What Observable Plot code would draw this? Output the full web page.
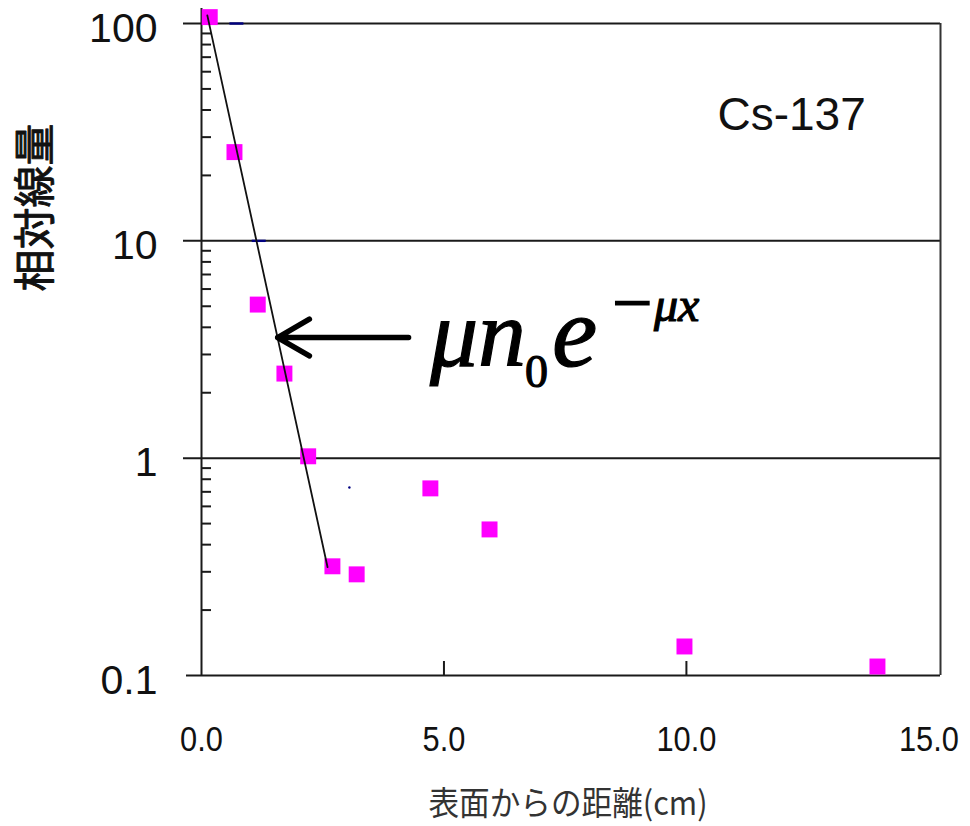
<!DOCTYPE html>
<html><head><meta charset="utf-8">
<script src="https://cdn.jsdelivr.net/npm/d3@7"></script>
<script src="https://cdn.jsdelivr.net/npm/@observablehq/plot@0.6"></script>
<style>body{margin:0;background:#fff} svg{display:block}</style>
</head><body><div id="chart"></div>
<script>
// measured data (distance from surface in cm, relative dose)
const distance = [0.17, 0.68, 1.16, 1.71, 2.20, 2.70, 3.20, 4.72, 5.94, 9.96, 13.94];
const dose = [107, 25.6, 5.09, 2.45, 1.02, 0.318, 0.292, 0.726, 0.470, 0.136, 0.110];
// fitted exponential line (end points)
const fitDistance = [0.12, 2.60];
const fitDose = [109, 0.315];
// small navy markers
const markerDistance = [0.72, 1.18];
const markerDose = [100, 10];
const strayDistance = [3.05];
const strayDose = [0.733];
// axes
const yTicks = [0.1, 1, 10, 100];
const yTickLabels = ["0.1", "1", "10", "100"];
const xTicks = [0, 5, 10, 15];
const xTickLabels = ["0.0", "5.0", "10.0", "15.0"];
const gridValues = [1, 10, 100];
const minorValues = [0.2,0.3,0.4,0.5,0.6,0.7,0.8,0.9, 2,3,4,5,6,7,8,9, 20,30,40,50,60,70,80,90];
const xMax = 15.24;
// texts
const xTitle = "表面からの距離(cm)";
const yTitle = "相対線量";
const nuclideLabel = [{x: 10.64, y: 38, text: "Cs-137"}];
const arrowData = [{x1: 4.27, y1: 3.59, x2: 1.57, y2: 3.59}];
const formulaPos = {x: 4.72, y: 2.64};

const W = 970, H = 826, ML = 201, MR = 30, MT = 23, MB = 151;
const points = distance.map((d, i) => ({x: d, y: dose[i]}));
const fit = fitDistance.map((d, i) => ({x: d, y: fitDose[i]}));
const markers = markerDistance.map((d, i) => ({x: d, y: markerDose[i]}));
const strays = strayDistance.map((d, i) => ({x: d, y: strayDose[i]}));
const dash = {draw(ctx) { ctx.rect(-7, -1.2, 14, 2.4); }};

const plot = Plot.plot({
  width: W, height: H,
  marginLeft: ML, marginRight: MR, marginTop: MT, marginBottom: MB,
  style: {background: "#fff", fontFamily: "'Liberation Sans', Arial, sans-serif", color: "#111"},
  x: {domain: [0, xMax]},
  y: {type: "log", domain: [0.1, 100]},
  marks: [
    Plot.ruleY(gridValues, {stroke: "#1a1a1a", strokeWidth: 2, insetLeft: -18}),
    Plot.ruleY([0.1], {stroke: "#1a1a1a", strokeWidth: 2, insetLeft: -15}),
    Plot.ruleX([0], {stroke: "#1a1a1a", strokeWidth: 2, insetTop: -15}),
    Plot.ruleX([xMax], {stroke: "#333", strokeWidth: 2}),
    Plot.tickY(minorValues, {stroke: "#1a1a1a", strokeWidth: 2, insetRight: W - ML - MR - 10}),
    Plot.tickX([5, 10], {stroke: "#1a1a1a", strokeWidth: 2, insetTop: H - MT - MB - 14}),
    Plot.axisY({ticks: yTicks, tickFormat: d => yTickLabels[yTicks.indexOf(d)], tickSize: 0, tickPadding: 44, fontSize: 41, dy: 5, fill: "#111"}),
    Plot.axisX({ticks: xTicks, tickFormat: d => xTickLabels[xTicks.indexOf(d)], tickSize: 0, tickPadding: 51, fontSize: 35, fill: "#111", stroke: "#111", strokeWidth: 0.4}),
    Plot.text([xTitle], {frameAnchor: "bottom", textAnchor: "middle", lineAnchor: "middle", dx: -3, dy: 129, fontSize: 33, fill: "#333", fontFamily: "'Noto Sans CJK JP', sans-serif"}),
    Plot.text([yTitle], {frameAnchor: "left", rotate: -90, textAnchor: "middle", lineAnchor: "middle", dx: -165, dy: -142, fontSize: 42, fill: "#111", stroke: "#111", strokeWidth: 0.9, fontFamily: "'Noto Sans CJK JP', sans-serif"}),
    Plot.text(nuclideLabel, {x: "x", y: "y", text: "text", textAnchor: "start", fontSize: 46, fill: "#111"}),
    Plot.dot(markers, {x: "x", y: "y", symbol: dash, fill: "#000080", stroke: null}),
    Plot.dot(strays, {x: "x", y: "y", r: 1.2, fill: "#000080"}),
    Plot.dot(points, {x: "x", y: "y", symbol: "square", r: 9, fill: "#ff00ff"}),
    Plot.line(fit, {x: "x", y: "y", stroke: "#111", strokeWidth: 1.8}),
    Plot.arrow(arrowData, {x1: "x1", y1: "y1", x2: "x2", y2: "y2", stroke: "#000", strokeWidth: 5.5, headLength: 10, headAngle: 60})
  ]
});
document.getElementById("chart").appendChild(plot);

// condensed x tick labels and x title, as in the reference
d3.select(plot).selectAll("g[aria-label='x-axis tick label'] text").each(function() {
  const L = this.getComputedTextLength();
  this.setAttribute("textLength", L * 0.88);
  this.setAttribute("lengthAdjust", "spacingAndGlyphs");
});
d3.select(plot).selectAll("text").filter(function() { return this.textContent === xTitle; }).each(function() {
  this.setAttribute("textLength", 279);
  this.setAttribute("lengthAdjust", "spacingAndGlyphs");
});

// formula annotation  μn0e^(−μx)
const sx = plot.scale("x"), sy = plot.scale("y");
const x0 = sx.apply(formulaPos.x), y0 = sy.apply(formulaPos.y);
const t = d3.select(plot).append("text")
  .attr("font-family", "'Liberation Serif', 'Times New Roman', serif")
  .attr("text-anchor", "start")
  .attr("fill", "#000")
  .attr("stroke", "#000")
  .attr("stroke-width", 1.2);
const parts = [
  {s: "μn", dx: 0, dy: 0, size: 96, italic: true},
  {s: "0", dx: 95, dy: 21, size: 46, italic: false},
  {s: "e", dx: 122, dy: 0, size: 102, italic: true},
  {s: "−", dx: 182, dy: -39, size: 72, italic: false},
  {s: "μx", dx: 224, dy: -45, size: 48, italic: true}
];
for (const p of parts) {
  t.append("tspan").attr("x", x0 + p.dx).attr("y", y0 + p.dy).attr("text-anchor", "start")
    .attr("font-size", p.size).attr("font-style", p.italic ? "italic" : "normal").text(p.s);
}
</script></body></html>
